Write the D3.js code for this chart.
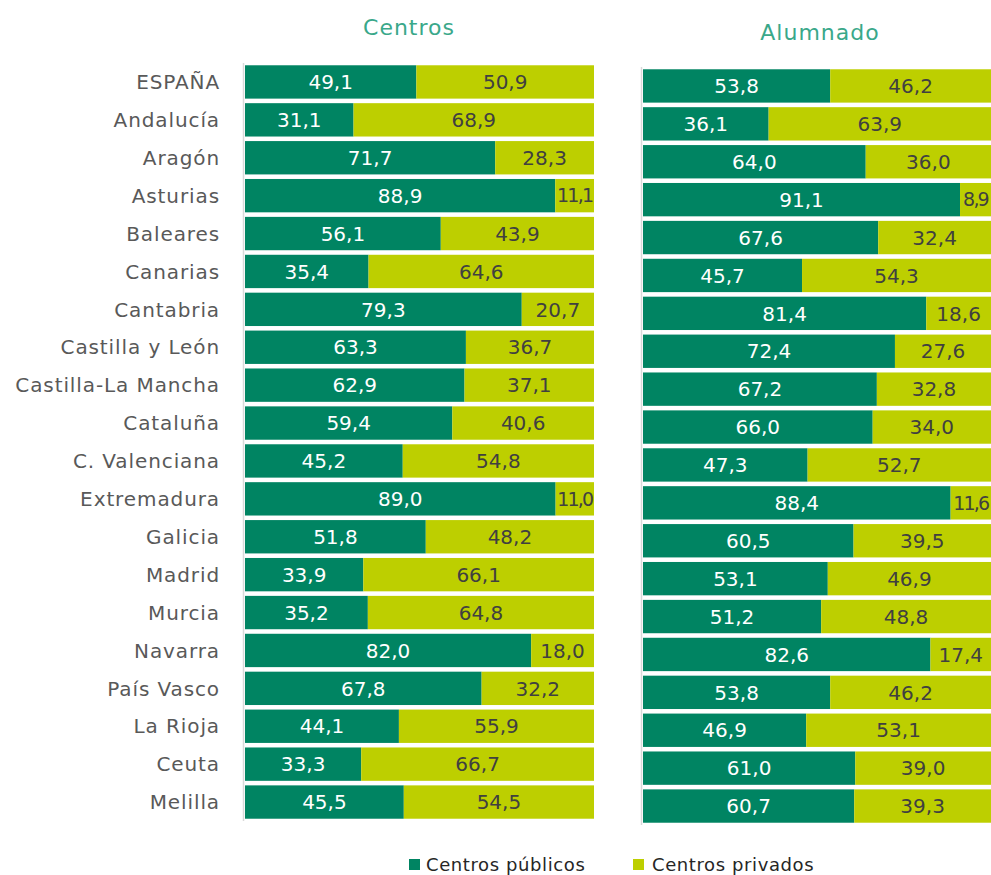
<!DOCTYPE html>
<html>
<head>
<meta charset="utf-8">
<script src="https://cdn.jsdelivr.net/npm/d3@7"></script>
<style>
  body { margin: 0; background: #fff; }
  svg { font-family: "DejaVu Sans", sans-serif; }
</style>
</head>
<body>
<svg id="chart" width="991" height="875"></svg>
<script>
// categories (rows)
const regions = ["ESPAÑA", "Andalucía", "Aragón", "Asturias", "Baleares", "Canarias",
    "Cantabria", "Castilla y León", "Castilla-La Mancha", "Cataluña", "C. Valenciana",
    "Extremadura", "Galicia", "Madrid", "Murcia", "Navarra", "País Vasco", "La Rioja",
    "Ceuta", "Melilla"];

// Centros: % públicos / privados
const centrosPublicos = [49.1, 31.1, 71.7, 88.9, 56.1, 35.4, 79.3, 63.3, 62.9, 59.4,
    45.2, 89.0, 51.8, 33.9, 35.2, 82.0, 67.8, 44.1, 33.3, 45.5];
const centrosPrivados = [50.9, 68.9, 28.3, 11.1, 43.9, 64.6, 20.7, 36.7, 37.1, 40.6,
    54.8, 11.0, 48.2, 66.1, 64.8, 18.0, 32.2, 55.9, 66.7, 54.5];

// Alumnado: % públicos / privados
const alumnadoPublicos = [53.8, 36.1, 64.0, 91.1, 67.6, 45.7, 81.4, 72.4, 67.2, 66.0,
    47.3, 88.4, 60.5, 53.1, 51.2, 82.6, 53.8, 46.9, 61.0, 60.7];
const alumnadoPrivados = [46.2, 63.9, 36.0, 8.9, 32.4, 54.3, 18.6, 27.6, 32.8, 34.0,
    52.7, 11.6, 39.5, 46.9, 48.8, 17.4, 46.2, 53.1, 39.0, 39.3];

const seriesNames = ["Centros públicos", "Centros privados"];
const colors = ["#008462", "#bdcf00"];
const textColors = ["#ffffff", "#404040"];

const svg = d3.select("#chart");
const fmt = (v) => d3.format(".1f")(v).replace(".", ",");

// draw one panel
function panel(title, pub, priv, x0, x1, y0, y1, titleX, titleY, showLabels) {
    const x = d3.scaleLinear().domain([0, 100]).range([x0, x1]);
    const y = d3.scaleBand().domain(regions).range([y0, y1]).paddingInner(0.12).paddingOuter(0.06);

    const g = svg.append("g");

    // title
    g.append("text")
        .attr("x", titleX)
        .attr("y", titleY)
        .attr("text-anchor", "middle")
        .style("font-size", "22px")
        .style("letter-spacing", "1px")
        .style("fill", "#3aa88a")
        .text(title);

    // left axis line
    g.append("line")
        .attr("x1", x0 - 1.5).attr("x2", x0 - 1.5)
        .attr("y1", y0).attr("y2", y1)
        .style("stroke", "#d9d9d9")
        .style("stroke-width", 1.5);

    const data = regions.map((r, i) => ({ r: r, vals: [pub[i], priv[i]] }));

    data.forEach((d) => {
        let acc = 0;
        d.vals.forEach((v, k) => {
            g.append("rect")
                .attr("x", x(acc))
                .attr("y", y(d.r))
                .attr("width", x(acc + v) - x(acc))
                .attr("height", y.bandwidth())
                .style("fill", colors[k]);
            g.append("text")
                .attr("x", (x(acc) + x(acc + v)) / 2)
                .attr("y", y(d.r) + y.bandwidth() / 2)
                .attr("dy", "0.36em")
                .attr("text-anchor", "middle")
                .style("font-size", v < 15 ? "19px" : "20px")
                .style("letter-spacing", v < 15 ? "-1.8px" : "0")
                .style("fill", textColors[k])
                .text(fmt(v));
            acc += v;
        });
    });

    if (showLabels) {
        g.append("g")
            .selectAll("text")
            .data(regions)
            .enter()
            .append("text")
            .attr("x", 220)
            .attr("y", (d) => y(d) + y.bandwidth() / 2)
            .attr("dy", "0.36em")
            .attr("text-anchor", "end")
            .style("font-size", "20px")
            .style("letter-spacing", "0.9px")
            .style("fill", "#595959")
            .text((d) => d);
    }
}

panel("Centros", centrosPublicos, centrosPrivados, 245, 594, 63, 821, 409, 35, true);
panel("Alumnado", alumnadoPublicos, alumnadoPrivados, 643, 991, 67, 825, 820, 40, false);

// legend
const legend = svg.append("g");
const legendX = [409, 633];
seriesNames.forEach((name, i) => {
    legend.append("rect")
        .attr("x", legendX[i])
        .attr("y", 859)
        .attr("width", 11)
        .attr("height", 11)
        .style("fill", colors[i]);
    legend.append("text")
        .attr("x", legendX[i] + (i === 0 ? 17 : 19))
        .attr("y", 865)
        .attr("dy", "0.36em")
        .style("font-size", "18px")
        .style("letter-spacing", "0.6px")
        .style("fill", "#262626")
        .text(name);
});
</script>
</body>
</html>
